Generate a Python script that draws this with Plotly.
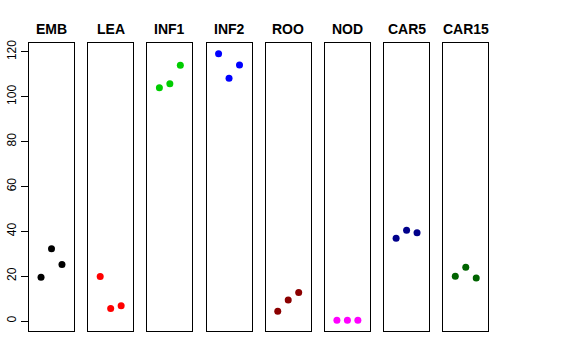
import plotly.graph_objects as go

tissues = ["EMB", "LEA", "INF1", "INF2", "ROO", "NOD", "CAR5", "CAR15"]
colors = ["#000000", "#FF0000", "#00CD00", "#0000FF", "#8B0000", "#FF00FF", "#00008B", "#006400"]
reps = [1, 2, 3]
EMB = [19.5, 32.2, 25.2]
LEA = [19.8, 5.6, 6.8]
INF1 = [104.0, 105.8, 114.0]
INF2 = [119.2, 108.2, 114.2]
ROO = [4.3, 9.4, 12.7]
NOD = [0.3, 0.3, 0.3]
CAR5 = [36.9, 40.5, 39.4]
CAR15 = [19.9, 24.0, 19.2]
values = [EMB, LEA, INF1, INF2, ROO, NOD, CAR5, CAR15]
yticks = [0, 20, 40, 60, 80, 100, 120]

W, H = 576, 360
fig = go.Figure()
ymin = min(min(v) for v in values)
ymax = max(max(v) for v in values)
pad = 0.04 * (ymax - ymin)
yr = [ymin - pad, ymax + pad]

layout = dict(
    width=W, height=H, margin=dict(l=0, r=0, t=0, b=0, autoexpand=False),
    paper_bgcolor="white", plot_bgcolor="white", showlegend=False,
    font=dict(family="Liberation Sans, Arial, sans-serif", color="black"),
)
annotations = []
for i, (name, col, vals) in enumerate(zip(tissues, colors, values)):
    n = "" if i == 0 else str(i + 1)
    fig.add_trace(go.Scatter(x=reps, y=vals, mode="markers",
                             marker=dict(color=col, size=7),
                             xaxis="x" + n, yaxis="y" + n, hoverinfo="skip"))
    left = 29 + 59.18 * i
    right = left + 45
    layout["xaxis" + n] = dict(domain=[left / W, right / W], range=[-0.15, 4.15],
                               showticklabels=False, ticks="", showgrid=False, zeroline=False,
                               showline=True, mirror=True, linecolor="black", linewidth=1,
                               anchor="y" + n, automargin=False)
    yax = dict(domain=[(H - 331) / H, (H - 43) / H], range=yr, showgrid=False, zeroline=False,
               showline=True, mirror=True, linecolor="black", linewidth=1, anchor="x" + n,
               automargin=False)
    if i == 0:
        yax.update(tickvals=yticks, ticktext=[str(t) for t in yticks], ticks="outside",
                   ticklen=7, tickcolor="black", tickangle=-90,
                   tickfont=dict(size=12, color="black"))
    else:
        yax.update(showticklabels=False, ticks="")
    layout["yaxis" + n] = yax
    annotations.append(dict(text="<b>" + name + "</b>", x=(left + right) / 2 / W, y=(H - 29) / H,
                            xref="paper", yref="paper", showarrow=False,
                            xanchor="center", yanchor="middle",
                            font=dict(size=14, color="black")))
layout["annotations"] = annotations
fig.update_layout(**layout)
fig.write_html("out.html", config={"displayModeBar": False},
               post_script="document.body.style.margin='0px';")
